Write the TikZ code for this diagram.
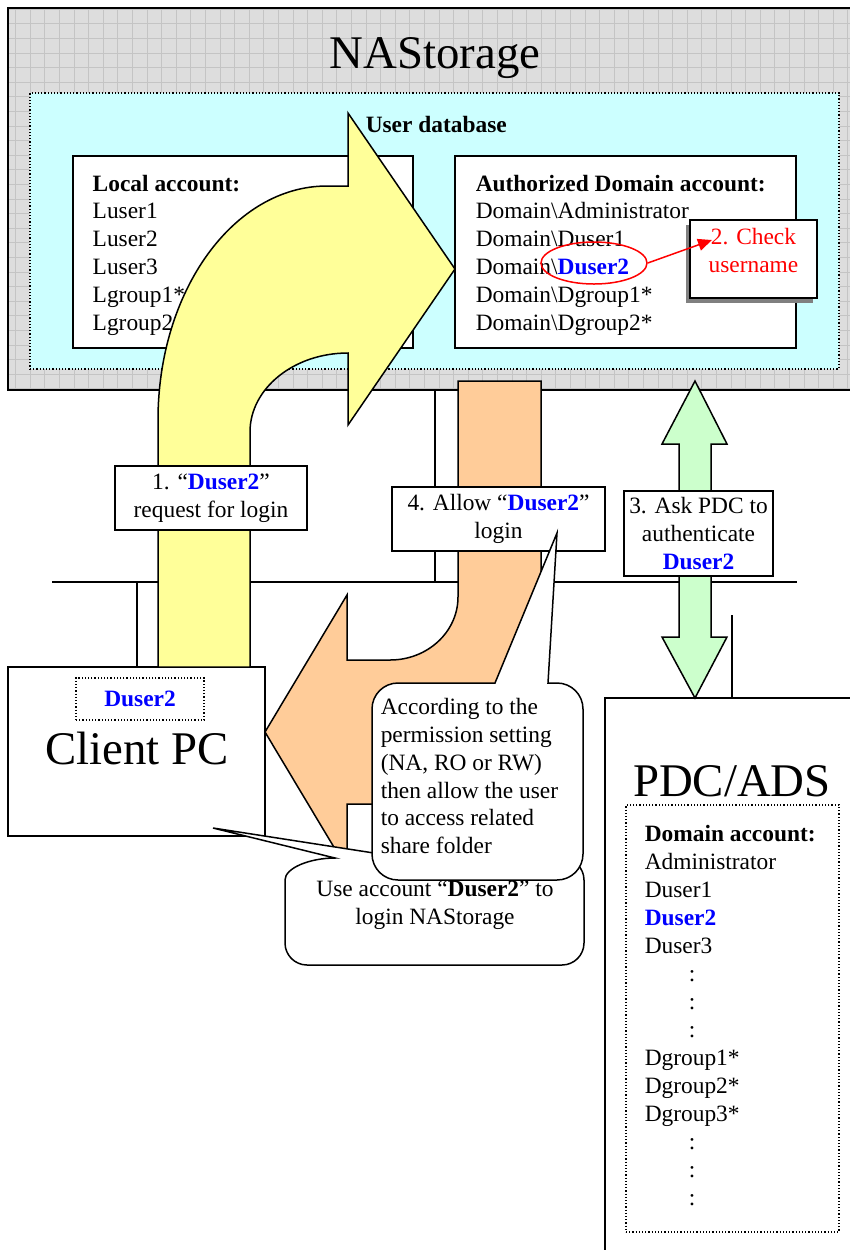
\documentclass[tikz,border=0pt]{standalone}
\usepackage{fontspec}
\setmainfont{Liberation Serif}
\usetikzlibrary{arrows.meta, shapes.geometric, shadows}

\definecolor{nasgray}{HTML}{DDDDDD}
\definecolor{nasgrid}{HTML}{C4C4C4}
\definecolor{dbcyan}{HTML}{CCFFFF}
\definecolor{reqyellow}{HTML}{FFFF99}
\definecolor{allowor}{HTML}{FFCC99}
\definecolor{askgreen}{HTML}{CCFFCC}
\definecolor{dublue}{HTML}{0000FF}
\definecolor{chkred}{HTML}{FF0000}

\newcommand{\bodyfnt}{\fontsize{11.7}{14}\selectfont}
\newcommand{\titlefnt}{\fontsize{23.4}{28}\selectfont}
\newcommand{\du}{\textcolor{dublue}{\textbf{Duser2}}}

\begin{document}
\begin{tikzpicture}[x=0.5pt, y=-0.5pt, line width=0.75pt, font=\bodyfnt,
    box/.style={draw, fill=white, inner sep=0pt},
    dotbox/.style={draw, densely dotted, line width=0.6pt, inner sep=0pt},
    lbl/.style={draw, fill=white, align=center, inner sep=0pt},
    lst/.style={anchor=north west, align=left, inner sep=0pt},
    big/.style={font=\titlefnt, inner sep=0pt, anchor=base}]
\useasboundingbox (0,0) rectangle (850,1250);
\clip (0,0) rectangle (850,1250);

% NAStorage
\node[draw, fill=nasgray, minimum width=431pt, minimum height=191pt,
      path picture={\draw[nasgrid, line width=0.4pt, step=7.3pt]
        (path picture bounding box.south west) grid (path picture bounding box.north east);}]
      (nasbox) at (439,199) {};
\node[big] (nas) at (435,68) {NAStorage};
\node[dotbox, fill=dbcyan, minimum width=404.5pt, minimum height=138pt] (udbbox) at (434.5,231) {};
\node[anchor=base west, inner sep=0pt, font=\bodyfnt\bfseries] (udb) at (365,132) {User database};

\node[box, minimum width=170pt, minimum height=96pt] (loc) at (243,252) {};
\node[lst] (loclist) at (92,174) {\textbf{Local account:}\\Luser1\\Luser2\\Luser3\\Lgroup1*\\Lgroup2*};
\node[box, minimum width=170.5pt, minimum height=96pt] (dom) at (625.5,252) {};
\node[lst] (domlist) at (475,174) {\textbf{Authorized Domain account:}\\Domain\textbackslash Administrator\\
  Domain\textbackslash Duser1\\Domain\textbackslash\du\\Domain\textbackslash Dgroup1*\\Domain\textbackslash Dgroup2*};

% check username
\node[draw=chkred, ellipse, minimum width=53pt, minimum height=21pt, inner sep=0pt] (sel) at (594,263) {};
\node[box, minimum width=63.5pt, minimum height=39pt,
      drop shadow={shadow xshift=-2pt, shadow yshift=-2.5pt, fill=gray, opacity=1}] (chk) at (753.5,259) {};
\coordinate (chkin) at (712,240);
\draw[chkred, -{Triangle[length=7pt, width=6pt]}] (sel.east) -- (chkin);
\node[text=chkred, align=center, inner sep=0pt] (chktxt) at (753.5,250) {2. Check\\username};

% network
\coordinate (busl) at (52,582);
\coordinate (busr) at (797,582);
\coordinate (tap1) at (137,582);
\coordinate (tap2) at (435,582);
\coordinate (tap3) at (732,615);
\node[box, minimum width=128.5pt, minimum height=84.5pt] (pc) at (136.5,751.5) {};
\node[box, minimum width=132.5pt, minimum height=286pt] (pdc) at (737.5,984) {};
\draw (busl) -- (busr);
\draw (tap1) -- (tap1 |- pc.north);
\draw (tap2) -- (tap2 |- nasbox.south);
\draw (tap3) -- (tap3 |- pdc.north);

% Client PC
\node[dotbox, minimum width=64pt, minimum height=21pt] (pcuser) at (140,699) {\du};
\node[big] (pcname) at (137,764) {Client PC};

% PDC/ADS
\node[big] (pdcname) at (732,796) {PDC/ADS};
\node[dotbox, minimum width=106.5pt, minimum height=213.5pt] (pdcbox) at (732.5,1018.5) {};
\node[lst] (pdclist) at (644,824) {\textbf{Domain account:}\\Administrator\\Duser1\\\du\\Duser3\\
  \hspace*{22pt}:\\\hspace*{22pt}:\\\hspace*{22pt}:\\Dgroup1*\\Dgroup2*\\Dgroup3*\\
  \hspace*{22pt}:\\\hspace*{22pt}:\\\hspace*{22pt}:};

% arrows
\filldraw[fill=reqyellow] (158,667) -- (158,420) .. controls (158,290.8) and (233.7,186) .. (327,186)
  -- (348,186) -- (348,113) -- (455,269) -- (348,425) -- (348,353)
  .. controls (293.9,353) and (250,388.4) .. (250,432) -- (250,667) -- cycle;
\filldraw[fill=allowor] (458,381) -- (541,381) -- (541,640) .. controls (541,760) and (480,804) .. (420,804)
  -- (347,804) -- (347,869) -- (265,732) -- (347,595) -- (347,660) -- (390,660)
  .. controls (427.6,660) and (458,631.8) .. (458,597) -- cycle;
\filldraw[fill=askgreen] (695,381) -- (727,444) -- (711,444) -- (711,637) -- (727,637) -- (695,698)
  -- (662,637) -- (679,637) -- (679,444) -- (662,444) -- cycle;

\node[lbl, minimum width=96pt, minimum height=32pt] (req) at (211,498) {1. “\du”\\request for login};
\node[lbl, minimum width=106.5pt, minimum height=32pt] (allow) at (498.5,519) {4. Allow “\du”\\login};
\node[lbl, minimum width=74.5pt, minimum height=42.5pt] (ask) at (698.5,533.5) {3. Ask PDC to\\authenticate\\\du};

% callouts
\filldraw[fill=white] (335,858) -- (213,828) -- (406,858) -- (562,858) .. controls (574.1,858) and (584,867.9) .. (584,880)
  -- (584,943) .. controls (584,955.1) and (574.1,965) .. (562,965) -- (307,965)
  .. controls (294.9,965) and (285,955.1) .. (285,943) -- (285,880) .. controls (285,867.9) and (310,858) .. (335,858) -- cycle;
\node[align=center, inner sep=0pt] (logintxt) at (435,905) {Use account “\textbf{Duser2}” to\\login NAStorage};

\filldraw[fill=white] (398,683) -- (495,683) -- (557,533) -- (548,683) -- (557,683) .. controls (571.4,683) and (583,694.6) .. (583,709)
  -- (583,854) .. controls (583,868.4) and (571.4,880) .. (557,880) -- (398,880)
  .. controls (383.6,880) and (372,868.4) .. (372,854) -- (372,709) .. controls (372,694.6) and (383.6,683) .. (398,683) -- cycle;
\node[lst] (permtxt) at (380,697) {According to the\\permission setting\\(NA, RO or RW)\\then allow the user\\to access related\\share folder};
\end{tikzpicture}
\end{document}
